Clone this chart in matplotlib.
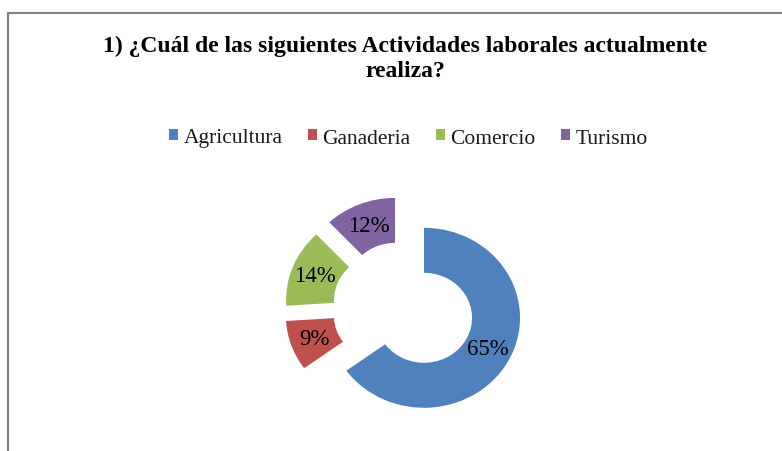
import matplotlib
matplotlib.use("Agg")
import matplotlib.pyplot as plt
from matplotlib.patches import Patch
from matplotlib.lines import Line2D

# data
categories = ["Agricultura", "Ganaderia", "Comercio", "Turismo"]
percentages = [65, 9, 14, 12]
colors = ["#4F81BD", "#C0504D", "#9BBB59", "#8064A2"]
title_text = "1) ¿Cuál de las siguientes Actividades laborales actualmente\nrealiza?"

plt.rcParams['font.family'] = ['Liberation Serif', 'DejaVu Serif']

W, H = 782, 452
fig = plt.figure(figsize=(W / 100, H / 100), dpi=100)

# pie axes: 1 unit = 96 px wide, 90 px tall, centre at (403.5, 309) px
cx, cy = 403.5, 309
ux, uy = 96, 90
ax_half_w, ax_half_h = 2.0, 1.4
ax = fig.add_axes([(cx - ax_half_w * ux) / W,
                   (H - cy - ax_half_h * uy) / H,
                   2 * ax_half_w * ux / W,
                   2 * ax_half_h * uy / H])

wedges, texts, autotexts = ax.pie(percentages, colors=colors, startangle=90, counterclock=False,
                                  explode=[0.24] * len(percentages),
                                  wedgeprops=dict(width=0.5, linewidth=0),
                                  autopct='%.0f%%', pctdistance=0.75,
                                  textprops=dict(fontsize=16.5, color='black'))
ax.set_aspect('auto')
ax.set_xlim(-ax_half_w, ax_half_w)
ax.set_ylim(-ax_half_h, ax_half_h)
ax.axis('off')

# title
fig.text(405 / W, 1 - 59 / H, title_text, ha='center', va='center', fontsize=17,
         fontweight='bold', linespacing=1.3)

# legend
handles = [Patch(facecolor=c, edgecolor='none') for c in colors]
fig.legend(handles, categories, loc='center', bbox_to_anchor=(408.5 / W, 1 - 139 / H), ncol=4,
           frameon=False, fontsize=15.5, handlelength=0.4, handleheight=0.4,
           handletextpad=0.25, columnspacing=1.2, labelcolor='#1a1a1a')

# chart border (left and top edges visible)
border_color = '#808080'
fig.add_artist(Line2D([8 / W, 8 / W], [0, 1 - 13.5 / H], transform=fig.transFigure,
                      color=border_color, linewidth=1.5))
fig.add_artist(Line2D([8 / W, 1], [1 - 13.5 / H, 1 - 13.5 / H], transform=fig.transFigure,
                      color=border_color, linewidth=1.5))

plt.savefig("out.png", dpi=100)
